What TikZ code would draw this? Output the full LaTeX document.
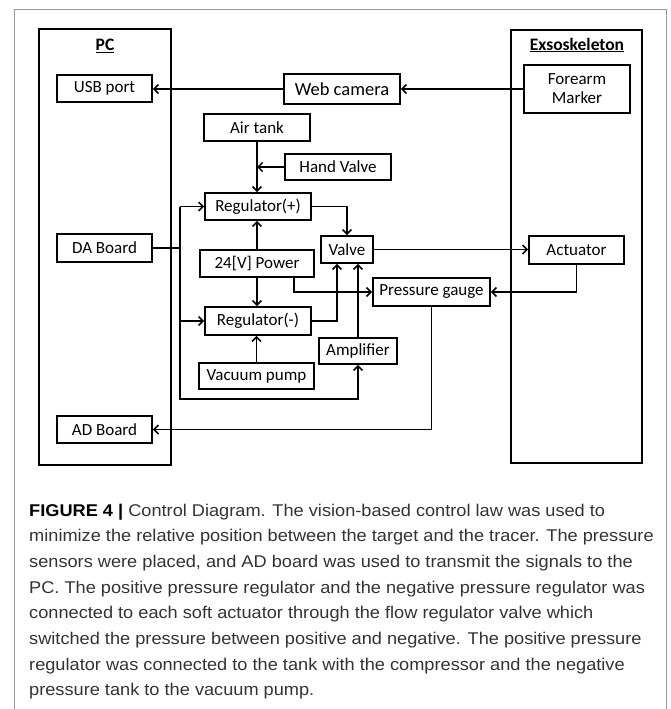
\documentclass[tikz,border=0pt]{standalone}
\usepackage{fontspec}
\setmainfont{Carlito}
\newfontfamily\capfont[FakeStretch=1.07]{Liberation Sans}
\usetikzlibrary{arrows.meta}
\definecolor{captxt}{HTML}{333333}
\begin{document}
\begin{tikzpicture}[x=1pt,y=-1pt,
  blk/.style={draw, line width=1.8pt, inner sep=0pt, align=center,
    font=\fontsize{17}{19}\selectfont},
  bigbox/.style={draw, line width=1.8pt, inner sep=0pt},
  ttl/.style={font=\fontsize{17.5}{19}\selectfont\bfseries, inner sep=0pt},
  ln/.style={line width=1.7pt},
  arr/.style={line width=1.7pt, -{Straight Barb[length=4.5pt,width=9pt,line width=1.5pt]}},
  capline/.style={anchor=base west, inner sep=0pt, text=captxt,
    font=\capfont\fontsize{17}{19}\selectfont},
  frame/.style={draw=gray!80, line width=1pt}]
\useasboundingbox (0,0) rectangle (670,709);
% outer frame
\draw[frame] (14,709) -- (14,9.5) -- (666,9.5) -- (666,709);
% big boxes
\node[bigbox, minimum width=132pt, minimum height=436pt] (pc) at (105,247) {};
\node[ttl] (pct) at (105,46) {\underline{PC}};
\node[bigbox, minimum width=131pt, minimum height=433pt] (exo) at (576.5,246.5) {};
\node[ttl] (exot) at (577,45) {\underline{Exsoskeleton}};
% blocks
\node[blk, minimum width=95pt, minimum height=27pt] (usb) at (104.5,88.5) {USB port};
\node[blk, minimum width=116pt, minimum height=30pt, font=\fontsize{18.5}{20}\selectfont] (web) at (342,89) {Web camera};
\node[blk, minimum width=106pt, minimum height=48pt] (fm) at (577,89) {Forearm\\Marker};
\node[blk, minimum width=106pt, minimum height=27pt] (air) at (257,127.5) {Air tank};
\node[blk, minimum width=106pt, minimum height=26pt] (hv) at (338,167) {Hand Valve};
\node[blk, minimum width=106pt, minimum height=27pt] (regp) at (258,206.5) {Regulator(+)};
\node[blk, minimum width=95pt, minimum height=28pt] (da) at (104.5,248) {DA Board};
\node[blk, minimum width=114pt, minimum height=27pt] (pw) at (257,263.5) {24[V] Power};
\node[blk, minimum width=52pt, minimum height=27pt] (valve) at (347,249.5) {Valve};
\node[blk, minimum width=95pt, minimum height=28pt] (act) at (576.5,250) {Actuator};
\node[blk, minimum width=117pt, minimum height=28pt] (pg) at (431.5,292) {Pressure gauge};
\node[blk, minimum width=106pt, minimum height=28pt] (regm) at (258,321) {Regulator(-)};
\node[blk, minimum width=78pt, minimum height=26pt] (amp) at (358,351) {Amplifier};
\node[blk, minimum width=115pt, minimum height=26pt] (vp) at (256.5,376) {Vacuum pump};
\node[blk, minimum width=95pt, minimum height=27pt] (ad) at (104.5,429.5) {AD Board};
% helper coordinates
\coordinate (busx) at (180,0);
\coordinate (bot) at (180,399);
% connectors
\draw[arr] (fm.west) -- (fm.west -| web.east);
\draw[arr] (web.west) -- (web.west -| usb.east);
\draw[arr] (air.south) -- (air.south |- regp.north);
\draw[arr] (hv.west) -- (hv.west -| air.south);
\draw[ln] (da.east) -- (da.east -| busx);
\draw[arr] (busx |- regp.west) -- (regp.west);
\draw[arr] (busx |- regm.west) -- (regm.west);
\draw[arr] (busx |- regp.west) -- (bot) -| (amp.south);
\draw[arr] (pw.north) -- (pw.north |- regp.south);
\draw[arr] (pw.south) -- (pw.south |- regm.north);
\draw[arr] ([xshift=-21pt]pw.south east) |- (pg.west);
\draw[arr] (regp.east) -| (valve.north);
\draw[arr] (regm.east) -| ([xshift=-10pt]valve.south);
\draw[arr] (amp.north) -- (amp.north |- valve.south);
\draw[arr] (vp.north) -- (vp.north |- regm.south);
\draw[arr] (valve.east) -- (valve.east -| act.west);
\draw[arr] (act.south) |- (pg.east);
\draw[arr] (pg.south) |- (ad.east);
% caption
\node[capline] (c1) at (29,516) {\textcolor{black}{\textbf{FIGURE 4 |}} Control Diagram. The vision-based control law was used to};
\node[capline] (c2) at (29,541.7) {minimize the relative position between the target and the tracer. The pressure};
\node[capline] (c3) at (29,567.4) {sensors were placed, and AD board was used to transmit the signals to the};
\node[capline] (c4) at (29,593.1) {PC. The positive pressure regulator and the negative pressure regulator was};
\node[capline] (c5) at (29,618.8) {connected to each soft actuator through the flow regulator valve which};
\node[capline] (c6) at (29,644.5) {switched the pressure between positive and negative. The positive pressure};
\node[capline] (c7) at (29,670.2) {regulator was connected to the tank with the compressor and the negative};
\node[capline] (c8) at (29,695.9) {pressure tank to the vacuum pump.};
\end{tikzpicture}
\end{document}
